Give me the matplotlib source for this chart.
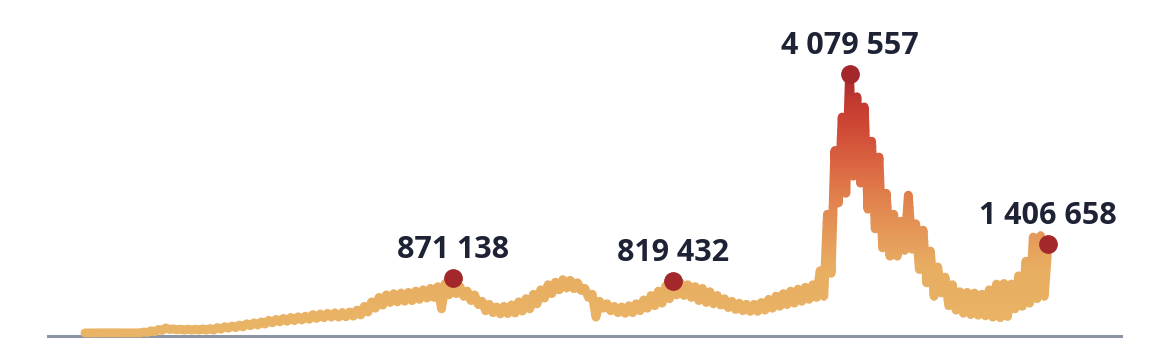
import matplotlib
matplotlib.use("Agg")
import matplotlib.pyplot as plt
from matplotlib.colors import LinearSegmentedColormap, Normalize
from matplotlib.patches import Rectangle

# weekly highs / lows of daily new cases (thousands)
weekly_high = [
    1, 2, 3, 3, 4, 2, 2, 3, 15, 35,
    55, 80, 65, 60, 60, 60, 65, 70, 85, 100,
    110, 125, 145, 160, 175, 200, 215, 230, 245, 255,
    265, 290, 300, 310, 315, 320, 330, 360, 420, 490,
    560, 600, 620, 630, 640, 660, 680, 700, 730, 780,
    871.138, 730, 660, 600, 500, 450, 410, 420, 440, 490,
    540, 610, 680, 760, 800, 840, 830, 790, 700, 610,
    500, 460, 420, 410, 430, 460, 520, 590, 660, 740,
    819.432, 790, 760, 730, 700, 650, 590, 540, 500, 470,
    450, 450, 480, 530, 580, 620, 660, 690, 720, 760,
    980, 1870, 2870, 3400, 4079.557, 3720, 3560, 3020, 2770, 2200,
    1870, 1760, 2170, 1720, 1620, 1290, 1040, 880, 760, 650,
    640, 630, 610, 680, 770, 780, 770, 900, 1130, 1510,
    1530,
]
weekly_low = [
    0, 1, 2, 2, 2, 1, 1, 2, 8, 20,
    40, 55, 50, 45, 45, 45, 45, 45, 60, 75,
    85, 95, 115, 125, 140, 160, 175, 185, 195, 205,
    215, 230, 240, 250, 250, 255, 265, 285, 330, 390,
    440, 480, 490, 500, 510, 530, 550, 560, 380, 600,
    620, 580, 510, 450, 350, 320, 300, 305, 315, 345,
    380, 460, 550, 620, 680, 710, 700, 670, 560, 250,
    390, 350, 320, 310, 320, 350, 390, 430, 470, 540,
    600, 590, 560, 510, 480, 460, 440, 400, 370, 350,
    340, 340, 360, 390, 420, 450, 470, 500, 530, 560,
    580, 940, 2050, 2200, 2470, 2360, 1950, 1640, 1340, 1210,
    1210, 1300, 1320, 1000, 790, 580, 630, 430, 360, 310,
    290, 280, 270, 250, 240, 260, 380, 420, 470, 540,
    580,
]
last_value = 1406.658

peak_weeks = [50, 80, 104, 131]
peak_labels = [871138, 819432, 4079557, 1406658]

weeks = []
values = []
for w, (hi, lo) in enumerate(zip(weekly_high, weekly_low)):
    weeks += [w, w + 0.5]
    values += [hi, lo]
weeks.append(len(weekly_high))
values.append(last_value)

peak_values = [values[weeks.index(w)] for w in peak_weeks]

cmap = LinearSegmentedColormap.from_list("cases", [
    (0.0, "#E9B466"), (0.25, "#E8AD61"), (0.45, "#E38E53"),
    (0.62, "#DC6C44"), (0.78, "#D04B36"), (0.9, "#C13830"), (1.0, "#A5292C")])
norm = Normalize(0, 4080)

fig = plt.figure(figsize=(11.69, 3.61), dpi=100)
ax = fig.add_axes([0, 0, 1, 1])
ax.set_xlim(-11.56, 147.46)
ax.set_ylim(-441, 5244)
ax.axis("off")

# vertical colour gradient: draw the line once per value band, clipped to it
n_bands = 110
lo_v, hi_v = -200, 4400
step = (hi_v - lo_v) / n_bands
for i in range(n_bands):
    b0 = lo_v + i * step
    clip = Rectangle((-20, b0), 200, step * 1.05, transform=ax.transData)
    line, = ax.plot(weeks, values, color=cmap(norm(b0 + step / 2)), lw=6.4,
                    solid_joinstyle="round", solid_capstyle="round", zorder=2)
    line.set_clip_path(clip)

ax.axhline(-47, xmin=48 / 1169, xmax=1121 / 1169, color="#8C95A3", lw=2.2, zorder=1)

ax.plot(peak_weeks, peak_values, "o", ms=12.5, color="#A3282C", zorder=5)
for w, v, lab in zip(peak_weeks, peak_values, peak_labels):
    ax.annotate(f"{lab:,}".replace(",", " "), (w, v), xytext=(0, 14.4),
                textcoords="offset points", ha="center", va="baseline",
                fontsize=22, fontweight="bold", family="Open Sans",
                color="#1E2235", zorder=6)

fig.savefig("out.png", dpi=100)
